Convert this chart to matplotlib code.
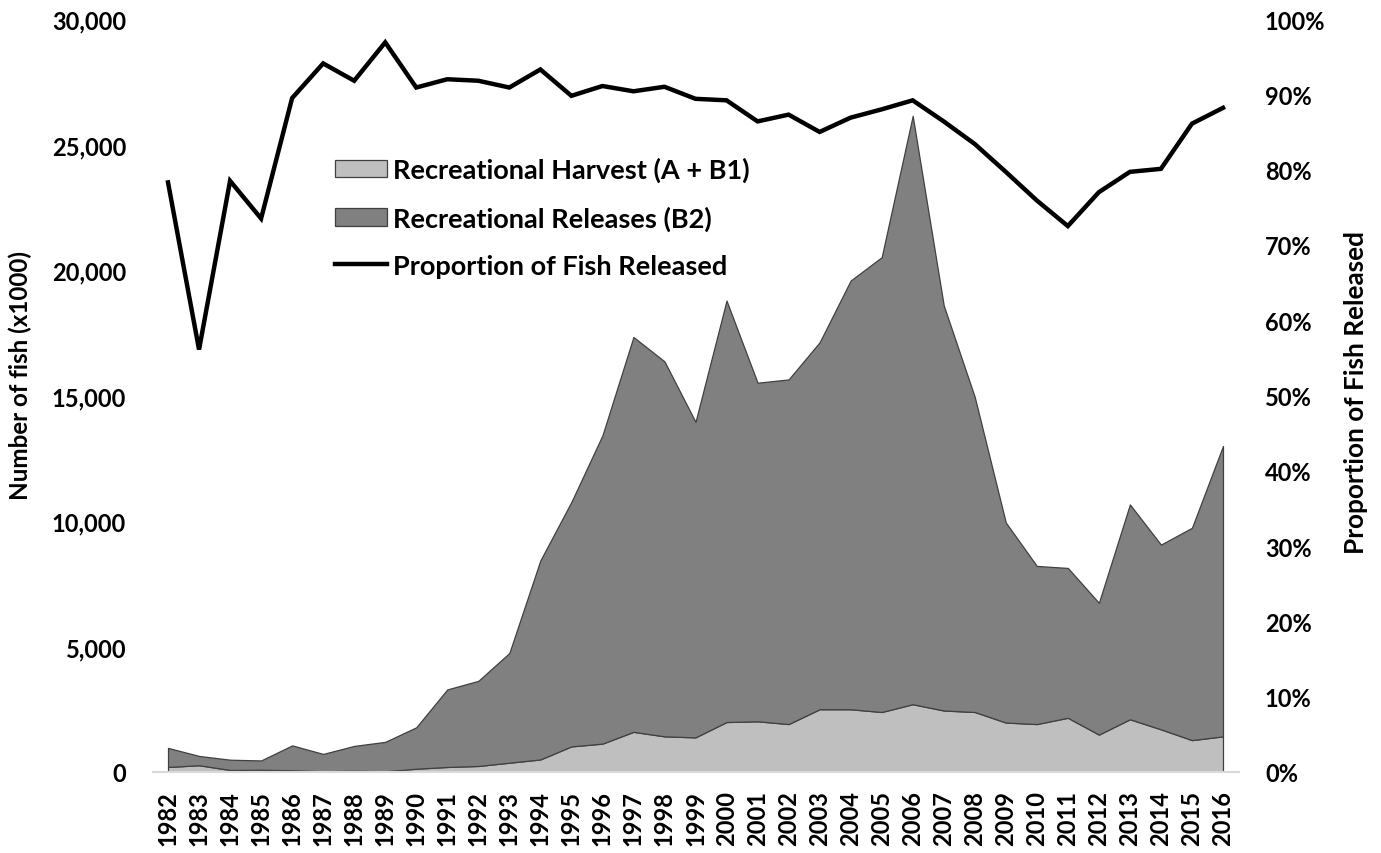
import os
import matplotlib
matplotlib.use("Agg")
import matplotlib.pyplot as plt
from matplotlib import font_manager as fm
from matplotlib.patches import Patch
from matplotlib.lines import Line2D
from matplotlib.ticker import FuncFormatter, MultipleLocator
import numpy as np

# pick a family that really has a true bold face (not semibold)
chosen = 'DejaVu Sans'
for fam in ['Lato', 'Roboto', 'Open Sans', 'Noto Sans', 'Liberation Sans']:
    try:
        path = fm.findfont(fm.FontProperties(family=fam, weight='bold'), fallback_to_default=False)
        base = os.path.basename(path).lower()
        if 'bold' in base and 'semi' not in base and 'demi' not in base and 'extra' not in base:
            chosen = fam
            break
    except Exception:
        pass
plt.rcParams['font.family'] = [chosen, 'DejaVu Sans']
plt.rcParams['font.weight'] = 'bold'

years = list(range(1982, 2017))
harvest = [200, 270, 80, 90, 70, 30, 50, 30, 130, 200, 240, 370, 500, 1020, 1130,
           1600, 1420, 1380, 1990, 2020, 1910, 2500, 2500, 2390, 2700, 2450, 2390,
           1970, 1910, 2160, 1490, 2100, 1700, 1270, 1420]
releases = [760, 370, 410, 370, 990, 690, 990, 1170, 1650, 3090, 3390, 4370, 7930,
            9740, 12280, 15730, 14940, 12570, 16790, 13490, 13730, 14620, 17080,
            18120, 23440, 16140, 12550, 7970, 6300, 5970, 5250, 8560, 7360, 8460, 11570]
proportion = [0.783, 0.561, 0.785, 0.735, 0.895, 0.941, 0.918, 0.969, 0.909, 0.920,
              0.918, 0.909, 0.933, 0.898, 0.911, 0.904, 0.910, 0.894, 0.892, 0.864,
              0.873, 0.850, 0.869, 0.880, 0.892, 0.864, 0.834, 0.797, 0.759, 0.725,
              0.770, 0.797, 0.801, 0.861, 0.882]

labels = ["Recreational Harvest (A + B1)", "Recreational Releases (B2)",
          "Proportion of Fish Released"]

FS = 17
W, H = 1381, 854
fig = plt.figure(figsize=(W / 100, H / 100), dpi=100)
ax = fig.add_axes([152.5 / W, 1 - 773 / H, (1238.5 - 152.5) / W, (773 - 20) / H])
x = np.arange(len(years))

ax.stackplot(x, harvest, releases, colors=['#bfbfbf', '#808080'],
             edgecolor='#404040', linewidth=0.9)
ax.set_xlim(-0.5, len(years) - 0.5)
ax.set_ylim(0, 30000)
ax.yaxis.set_major_locator(MultipleLocator(5000))
ax.yaxis.set_major_formatter(FuncFormatter(lambda v, p: f"{int(v):,}"))
ax.set_xticks(x)
ax.set_xticklabels([str(y) for y in years], rotation=90, fontsize=FS, fontweight='bold')
for s in ['top', 'right', 'left']:
    ax.spines[s].set_visible(False)
ax.spines['bottom'].set_color('#d9d9d9')
ax.spines['bottom'].set_linewidth(1.5)
ax.tick_params(axis='both', length=0)
ax.tick_params(axis='y', pad=19, labelsize=FS)
ax.tick_params(axis='x', pad=13)
for t in ax.get_yticklabels():
    t.set_fontweight('bold')
ax.set_ylabel("Number of fish (x1000)", fontsize=17.4, fontweight='bold')
ax.yaxis.set_label_coords(-0.111, 0.528)

ax2 = ax.twinx()
ax2.plot(x, proportion, color='black', linewidth=3.2, solid_joinstyle='miter')
ax2.set_ylim(0, 1)
ax2.yaxis.set_major_locator(MultipleLocator(0.1))
ax2.yaxis.set_major_formatter(FuncFormatter(lambda v, p: f"{v * 100:.0f}%"))
for s in ['top', 'right', 'left', 'bottom']:
    ax2.spines[s].set_visible(False)
ax2.tick_params(axis='y', length=0, pad=19, labelsize=FS)
for t in ax2.get_yticklabels():
    t.set_fontweight('bold')
ax2.set_ylabel("Proportion of Fish Released", fontsize=18.8, fontweight='bold')
ax2.yaxis.set_label_coords(1.097, 0.505)

handles = [Patch(facecolor='#bfbfbf', edgecolor='#404040', linewidth=0.9),
           Patch(facecolor='#808080', edgecolor='#404040', linewidth=0.9),
           Line2D([0], [0], color='black', linewidth=3.2)]
leg = ax2.legend(handles, labels, loc='upper left', bbox_to_anchor=(0.168, 0.817),
                 frameon=False, prop={'weight': 'bold', 'size': 19.5},
                 handlelength=1.93, handleheight=0.63, handletextpad=0.22,
                 labelspacing=0.85, borderaxespad=0, borderpad=0)

fig.savefig("out.png", dpi=100)
